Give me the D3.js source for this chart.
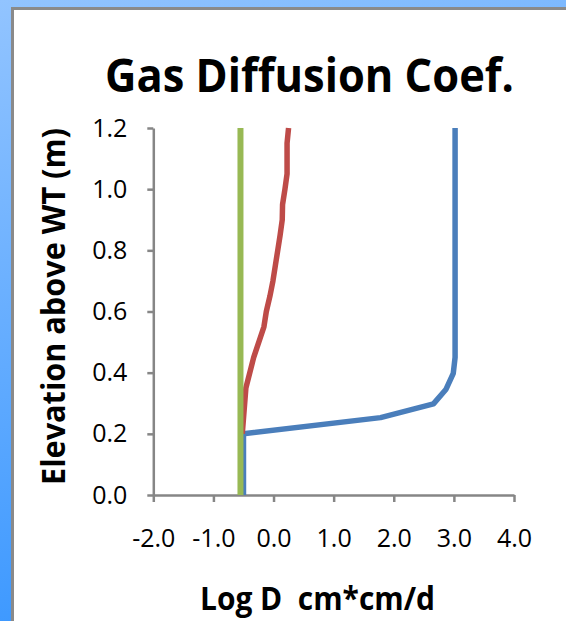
<!DOCTYPE html>
<html>
<head>
<meta charset="utf-8">
<script src="https://cdn.jsdelivr.net/npm/d3@7"></script>
<style>
  html, body { margin: 0; padding: 0; background: #fff; }
  svg { display: block; }
</style>
</head>
<body>
<svg id="chart" width="566" height="621"></svg>
<script>
// ---- data ----
const titleText = "Gas Diffusion Coef.";
const xTitleText = "Log D  cm*cm/d";
const yTitleText = "Elevation above WT (m)";
const xTicks = [-2, -1, 0, 1, 2, 3, 4];
const yTicks = [0, 0.2, 0.4, 0.6, 0.8, 1.0, 1.2];

const blueElev = [0, 0.2, 0.253, 0.298, 0.346, 0.398, 0.45, 1.2];
const blueLogD = [-0.5, -0.5, 1.78, 2.66, 2.87, 2.99, 3.02, 3.02];

const redElev = [0.2, 0.35, 0.45, 0.55, 0.6, 0.65, 0.7, 0.75, 0.8, 0.85, 0.9, 0.95, 1.0, 1.05, 1.1, 1.15, 1.2];
const redLogD = [-0.52, -0.46, -0.33, -0.16, -0.12, -0.06, -0.01, 0.03, 0.07, 0.11, 0.145, 0.15, 0.19, 0.225, 0.225, 0.225, 0.25];

const greenElev = [0, 1.2];
const greenLogD = [-0.55, -0.55];

const seriesColors = ["#4A7EBB", "#BE4B48", "#98B954"];

// ---- drawing ----
const svg = d3.select("#chart");
const defs = svg.append("defs");
const grad = defs.append("linearGradient").attr("id", "bg")
  .attr("x1", 0).attr("y1", 0).attr("x2", 0.25).attr("y2", 1);
grad.append("stop").attr("offset", 0).attr("stop-color", "#92C4FF");
grad.append("stop").attr("offset", 1).attr("stop-color", "#3A97FF");

svg.append("rect").attr("width", 566).attr("height", 621).attr("fill", "url(#bg)");
svg.append("rect").attr("x", 12.5).attr("y", 8.5).attr("width", 600).attr("height", 700)
  .attr("fill", "#fff").attr("stroke", "#8A8A8A").attr("stroke-width", 3);

const x = d3.scaleLinear().domain([-2, 4]).range([153.3, 514]);
const y = d3.scaleLinear().domain([0, 1.2]).range([495, 128]);

const axisColor = "#868686";
const fontFam = "'Open Sans', 'DejaVu Sans', sans-serif";

const xAxis = svg.append("g").attr("transform", `translate(0,${y(0)})`)
  .call(d3.axisBottom(x).tickValues(xTicks).tickFormat(d => d.toFixed(1))
    .tickSize(7).tickSizeOuter(0).tickPadding(27));
const yAxis = svg.append("g").attr("transform", `translate(${x(-2)},0)`)
  .call(d3.axisLeft(y).tickValues(yTicks).tickFormat(d => d.toFixed(1))
    .tickSize(6).tickSizeOuter(0).tickPadding(20));

[xAxis, yAxis].forEach(g => {
  g.select(".domain").attr("stroke", axisColor).attr("stroke-width", 2.5);
  g.selectAll(".tick line").attr("stroke", axisColor).attr("stroke-width", 2.5);
  g.selectAll(".tick text").attr("fill", "#000")
    .style("font-family", fontFam).style("font-size", "25px");
});

const line = d3.line().x(d => x(d[0])).y(d => y(d[1]));
const series = [
  d3.zip(blueLogD, blueElev),
  d3.zip(redLogD, redElev),
  d3.zip(greenLogD, greenElev)
];
svg.append("g").selectAll("path").data(series).join("path")
  .attr("d", line)
  .attr("fill", "none")
  .attr("stroke", (d, i) => seriesColors[i])
  .attr("stroke-width", (d, i) => i === 2 ? 6 : 5.5)
  .attr("stroke-linejoin", "round")
  .attr("stroke-linecap", "butt");

svg.append("text").attr("x", 309.5).attr("y", 92)
  .attr("text-anchor", "middle")
  .attr("textLength", 409).attr("lengthAdjust", "spacingAndGlyphs")
  .style("font-family", fontFam).style("font-weight", "bold").style("font-size", "46px")
  .text(titleText);

svg.append("text").attr("x", 317.5).attr("y", 610)
  .attr("text-anchor", "middle")
  .attr("textLength", 235).attr("lengthAdjust", "spacingAndGlyphs")
  .style("white-space", "pre")
  .style("font-family", fontFam).style("font-weight", "bold").style("font-size", "32px")
  .text(xTitleText);

svg.append("text").attr("transform", "translate(65,306.5) rotate(-90)")
  .attr("text-anchor", "middle")
  .attr("textLength", 357).attr("lengthAdjust", "spacingAndGlyphs")
  .style("font-family", fontFam).style("font-weight", "bold").style("font-size", "32px")
  .text(yTitleText);
</script>
</body>
</html>
